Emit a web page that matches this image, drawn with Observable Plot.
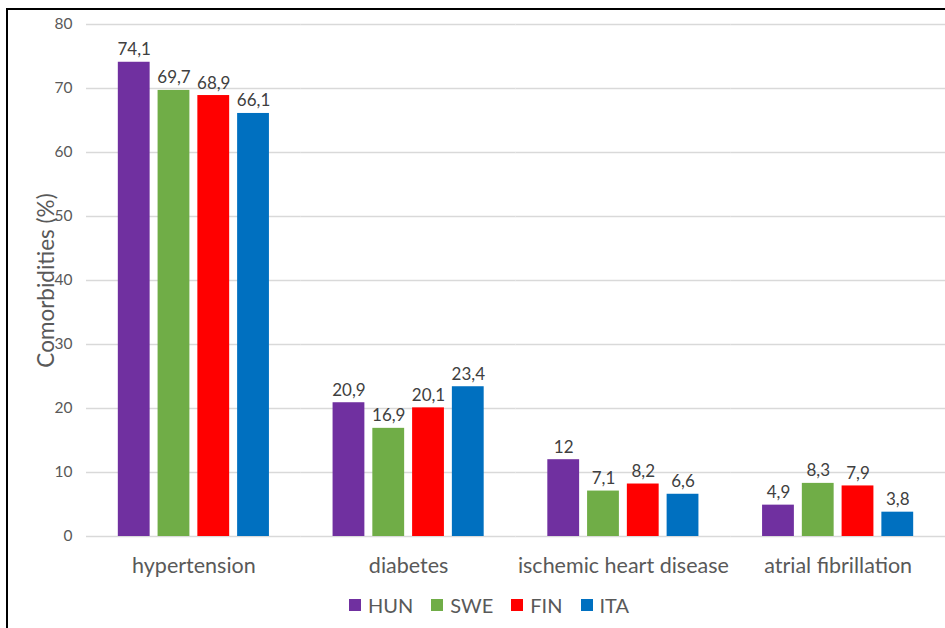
<!DOCTYPE html>
<html>
<head>
<meta charset="utf-8">
<script src="https://cdn.jsdelivr.net/npm/d3@7"></script>
<script src="https://cdn.jsdelivr.net/npm/@observablehq/plot@0.6"></script>
<style>
  html, body { margin: 0; padding: 0; background: #fff; }
  #wrap { position: relative; width: 945px; height: 628px; overflow: hidden; font-family: Lato, sans-serif; }
  #frame { position: absolute; left: 6px; top: 8px; width: 1000px; height: 700px; border-top: 2px solid #000; border-left: 2px solid #000; }
  #chart { position: absolute; left: 0; top: 0; }
  #legend { position: absolute; left: 349px; top: 593px; display: flex; align-items: center; font-size: 20px; color: #595959; }
  #legend .item { display: flex; align-items: center; margin-right: 18px; }
  #legend .sw { width: 12px; height: 12px; margin-right: 7px; }
</style>
</head>
<body>
<div id="wrap">
  <div id="frame"></div>
  <div id="chart"></div>
  <div id="legend"></div>
</div>
<script>
const categories = ["hypertension", "diabetes", "ischemic heart disease", "atrial fibrillation"];
const series = ["HUN", "SWE", "FIN", "ITA"];
const colors = ["#7030A0", "#70AD47", "#FF0000", "#0070C0"];
const HUN = [74.1, 20.9, 12, 4.9];
const SWE = [69.7, 16.9, 7.1, 8.3];
const FIN = [68.9, 20.1, 8.2, 7.9];
const ITA = [66.1, 23.4, 6.6, 3.8];
const yTicks = [0, 10, 20, 30, 40, 50, 60, 70, 80];

const valuesBySeries = {HUN, SWE, FIN, ITA};
const data = [];
categories.forEach((c, i) => {
  series.forEach(s => data.push({category: c, series: s, value: valuesBySeries[s][i]}));
});
const fmt = v => String(v).replace(".", ",");

const plot = Plot.plot({
  width: 945,
  height: 585,
  marginTop: 24,
  marginBottom: 49,
  marginLeft: 86,
  marginRight: 0,
  style: {fontFamily: "Lato, sans-serif", background: "transparent"},
  fx: {domain: categories, padding: 0, label: null, round: false},
  x: {domain: series, paddingInner: 0.2, paddingOuter: 0.8, round: false, axis: null},
  y: {domain: [0, 80], ticks: yTicks, label: null},
  color: {domain: series, range: colors},
  marks: [
    Plot.gridY(yTicks, {stroke: "#d9d9d9", strokeOpacity: 1, strokeWidth: 1.5}),
    Plot.barY(data, {fx: "category", x: "series", y: "value", fill: "series"}),
    Plot.text(data, {fx: "category", x: "series", y: "value", text: d => fmt(d.value), dy: -7, lineAnchor: "bottom", fontSize: 17, fill: "#404040"}),
    Plot.axisY(yTicks, {tickSize: 0, tickPadding: 14, fontSize: 15.5, color: "#595959", label: null}),
    Plot.axisY({ticks: [], label: "Comorbidities (%)", labelAnchor: "center", labelArrow: "none", labelOffset: 48, fontSize: 22.5, color: "#595959"}),
    Plot.axisFx({anchor: "bottom", tickSize: 0, tickPadding: 21, fontSize: 21.5, color: "#595959", label: null})
  ]
});
document.getElementById("chart").appendChild(plot);

const legend = document.getElementById("legend");
series.forEach((s, i) => {
  const item = document.createElement("div");
  item.className = "item";
  const sw = document.createElement("div");
  sw.className = "sw";
  sw.style.background = colors[i];
  const t = document.createElement("span");
  t.textContent = s;
  item.appendChild(sw);
  item.appendChild(t);
  legend.appendChild(item);
});
</script>
</body>
</html>
